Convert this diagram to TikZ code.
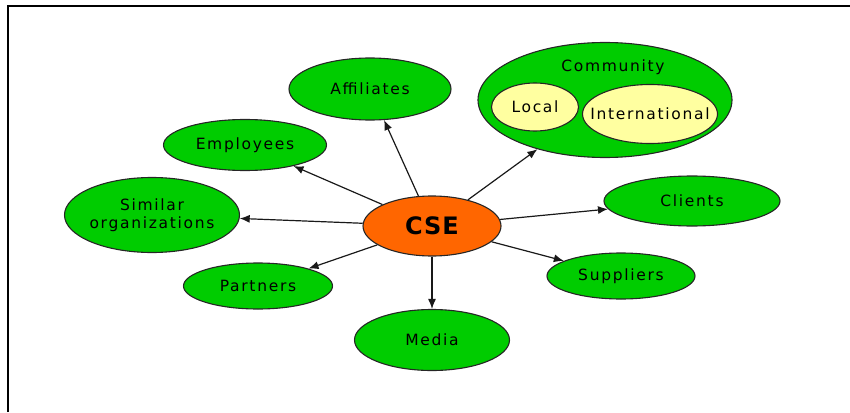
\documentclass[tikz,border=0pt]{standalone}
\usepackage{fontspec}
\setmainfont{DejaVu Sans}
\newfontfamily\leaffont{DejaVu Sans}[LetterSpace=11]
\newfontfamily\hubfont{DejaVu Sans}[LetterSpace=4]
\usetikzlibrary{shapes.geometric,arrows.meta}

\definecolor{leafgreen}{HTML}{00CC00}
\definecolor{huborange}{HTML}{FF6600}
\definecolor{paleyellow}{HTML}{FFFFA0}

\tikzstyle{leaf} = [ellipse, draw=black!85, line width=1.1pt, fill=leafgreen, inner sep=0pt, text centered, font=\leaffont\fontsize{15.5}{18}\selectfont]
\tikzstyle{subgroup} = [leaf, fill=paleyellow]
\tikzstyle{hub} = [leaf, fill=huborange, font=\hubfont\bfseries\fontsize{24}{26}\selectfont]
\tikzstyle{caption} = [inner sep=0pt, font=\leaffont\fontsize{15.5}{18}\selectfont]
\tikzstyle{arrow} = [line width=1.2pt, draw=black!90, -{Latex[length=10pt,width=8pt]}]

\begin{document}
\begin{tikzpicture}[x=1pt, y=-1pt]
		\useasboundingbox (0,0) rectangle (850,412);
		\draw [line width=2pt] (8,412) -- (8,6) -- (850,6);

		\node (cse) [hub, minimum width=138pt, minimum height=60pt] at (432,226) {CSE};
		\node (affiliates) [leaf, minimum width=162pt, minimum height=62pt] at (370,89) {Affiliates};
		\node (community) [leaf, minimum width=254pt, minimum height=115pt] at (605,100) {};
		\node (commtitle) [caption] at (613,67) {Community};
		\node (local) [subgroup, minimum width=87pt, minimum height=48pt] at (535,107) {Local};
		\node (intl) [subgroup, minimum width=135pt, minimum height=59pt, inner xsep=-15pt] at (650,114) {International};
		\node (employees) [leaf, minimum width=163pt, minimum height=51pt] at (245,145) {Employees};
		\node (similar) [leaf, minimum width=175pt, minimum height=75pt, align=center, inner xsep=-9pt] at (152,215) {Similar\\organizations};
		\node (clients) [leaf, minimum width=176pt, minimum height=50pt] at (692,201) {Clients};
		\node (partners) [leaf, minimum width=149pt, minimum height=46pt] at (258,286) {Partners};
		\node (suppliers) [leaf, minimum width=148pt, minimum height=46pt] at (621,276) {Suppliers};
		\node (media) [leaf, minimum width=155pt, minimum height=61pt] at (432,340) {Media};

		\draw [arrow] (cse) -- (affiliates);
		\draw [arrow] (cse) -- (community);
		\draw [arrow] (cse) -- (employees);
		\draw [arrow] (cse) -- (similar);
		\draw [arrow] (cse) -- (clients);
		\draw [arrow] (cse) -- (partners);
		\draw [arrow] (cse) -- (suppliers);
		\draw [arrow] (cse) -- (media);
	\end{tikzpicture}
\end{document}
